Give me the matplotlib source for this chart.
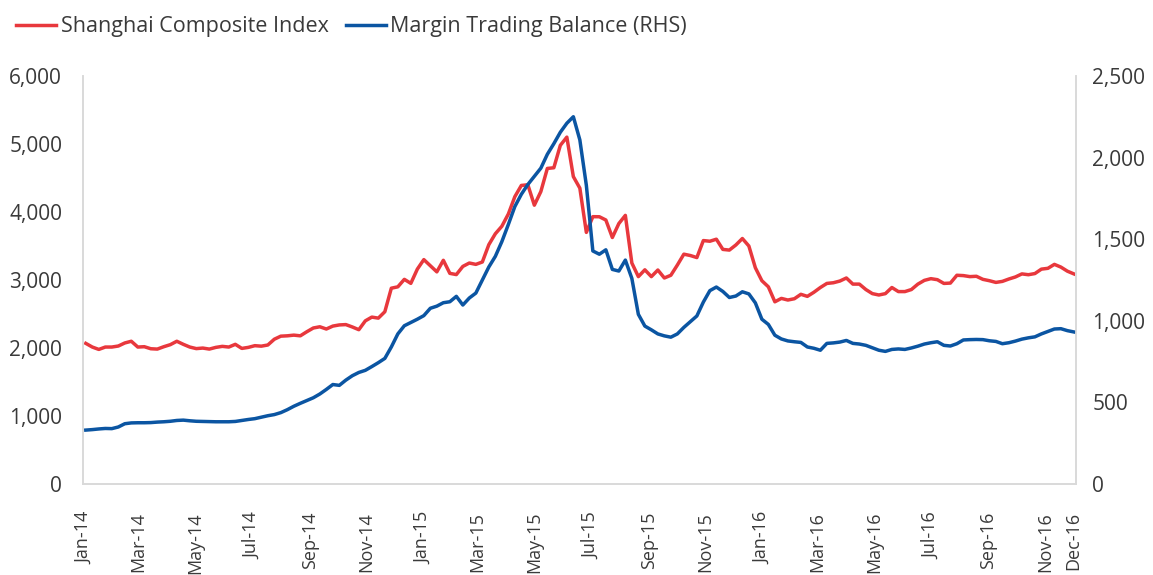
import matplotlib
matplotlib.use("Agg")
import matplotlib.pyplot as plt
import matplotlib.dates as mdates
import matplotlib.ticker as mticker
import pandas as pd

start_date = "2014-01-03"
n_weeks = 153

shanghai_composite = [
    2069, 2015, 1980, 2015, 2015, 2030, 2075, 2100, 2015, 2020,
    1990, 1985, 2020, 2050, 2100, 2055, 2015, 1992, 2000, 1985,
    2010, 2025, 2015, 2055, 1995, 2010, 2035, 2028, 2045, 2130,
    2175, 2180, 2190, 2180, 2240, 2295, 2313, 2280, 2323, 2340,
    2345, 2310, 2270, 2400, 2455, 2440, 2534, 2880, 2900, 3010,
    2951, 3160, 3300, 3210, 3120, 3290, 3098, 3080, 3200, 3250,
    3230, 3265, 3520, 3680, 3790, 3970, 4225, 4390, 4400, 4100,
    4300, 4640, 4650, 4980, 5100, 4520, 4350, 3700, 3931, 3930,
    3882, 3625, 3830, 3950, 3250, 3050, 3150, 3050, 3147, 3030,
    3070, 3220, 3380, 3360, 3330, 3580, 3570, 3600, 3450, 3440,
    3515, 3610, 3500, 3180, 2990, 2900, 2680, 2730, 2706, 2725,
    2790, 2760, 2820, 2890, 2950, 2960, 2985, 3030, 2940, 2940,
    2860, 2800, 2780, 2800, 2890, 2830, 2830, 2860, 2940, 2995,
    3020, 3005, 2950, 2955, 3070, 3065, 3050, 3055, 3010, 2990,
    2965, 2980, 3015, 3045, 3090, 3078, 3095, 3160, 3172, 3230,
    3190, 3130, 3090,
]

margin_balance = [
    331, 334, 338, 341, 340, 350, 370, 375, 376, 376,
    377, 380, 382, 385, 390, 392, 388, 385, 384, 383,
    382, 382, 382, 384, 390, 396, 401, 410, 419, 426,
    438, 456, 477, 495, 512, 529, 552, 580, 610, 605,
    637, 664, 684, 697, 720, 744, 770, 840, 920, 970,
    990, 1010, 1032, 1077, 1090, 1111, 1117, 1150, 1097, 1140,
    1170, 1250, 1330, 1395, 1485, 1590, 1700, 1775, 1835, 1885,
    1935, 2020, 2085, 2155, 2210, 2250, 2108, 1830, 1428, 1408,
    1435, 1315, 1305, 1372, 1260, 1040, 968, 945, 920, 908,
    900, 920, 960, 995, 1030, 1115, 1185, 1207, 1180, 1143,
    1152, 1178, 1165, 1110, 1010, 978, 912, 889, 877, 872,
    868, 840, 832, 820, 862, 865, 870, 880, 862, 858,
    850, 835, 820, 813, 825, 828, 825, 834, 845, 858,
    866, 872, 850, 846, 860, 883, 885, 886, 885, 878,
    874, 860, 866, 876, 888, 896, 902, 920, 935, 950,
    952, 940, 932,
]

tick_dates = ["2014-01-01", "2014-03-01", "2014-05-01", "2014-07-01", "2014-09-01",
              "2014-11-01", "2015-01-01", "2015-03-01", "2015-05-01", "2015-07-01",
              "2015-09-01", "2015-11-01", "2016-01-01", "2016-03-01", "2016-05-01",
              "2016-07-01", "2016-09-01", "2016-11-01", "2016-12-01"]

left_ticks = [0, 1000, 2000, 3000, 4000, 5000, 6000]
right_ticks = [0, 500, 1000, 1500, 2000, 2500]

dates = pd.date_range(start_date, periods=n_weeks, freq="7D")

RED = "#E8383D"
BLUE = "#0B55A2"
GRID = "#D9D9D9"
TXT = "#3A3A3A"
plt.rcParams["font.family"] = ["Open Sans", "DejaVu Sans"]

fig = plt.figure(figsize=(11.53, 5.75), dpi=100)
ax = fig.add_axes([0.072, 0.158, 0.861, 0.710])
ax2 = ax.twinx()

l1, = ax.plot(dates, shanghai_composite, color=RED, lw=2.5, label="Shanghai Composite Index",
              solid_joinstyle="round")
l2, = ax2.plot(dates, margin_balance, color=BLUE, lw=2.5, label="Margin Trading Balance (RHS)",
               solid_joinstyle="round")

ax.set_ylim(0, 6000)
ax2.set_ylim(0, 2500)
ax.set_xlim(pd.Timestamp("2013-12-31"), pd.Timestamp("2016-12-04"))

ax.set_yticks(left_ticks)
ax2.set_yticks(right_ticks)
fmt = mticker.FuncFormatter(lambda v, p: f"{int(v):,}")
ax.yaxis.set_major_formatter(fmt)
ax2.yaxis.set_major_formatter(fmt)

ax.set_xticks(pd.to_datetime(tick_dates))
ax.xaxis.set_major_formatter(mdates.DateFormatter("%b-%y"))
for lab in ax.get_xticklabels():
    lab.set_rotation(90)

for a in (ax, ax2):
    a.tick_params(axis="both", length=0, labelsize=15, labelcolor=TXT)
    a.spines["top"].set_visible(False)
    for s in ("left", "right", "bottom"):
        a.spines[s].set_color(GRID)
        a.spines[s].set_linewidth(1.2)
ax.tick_params(axis="y", pad=15)
ax2.tick_params(axis="y", pad=12)
ax.tick_params(axis="x", pad=20, labelsize=13)

fig.legend(handles=[l1, l2], loc="upper left", bbox_to_anchor=(0.0, 1.0), ncol=2,
           frameon=False, fontsize=15.5, handlelength=1.85, handletextpad=0.22,
           columnspacing=0.8, borderpad=0.15, borderaxespad=0.6, labelcolor=TXT)

fig.savefig("out.png", dpi=100)
